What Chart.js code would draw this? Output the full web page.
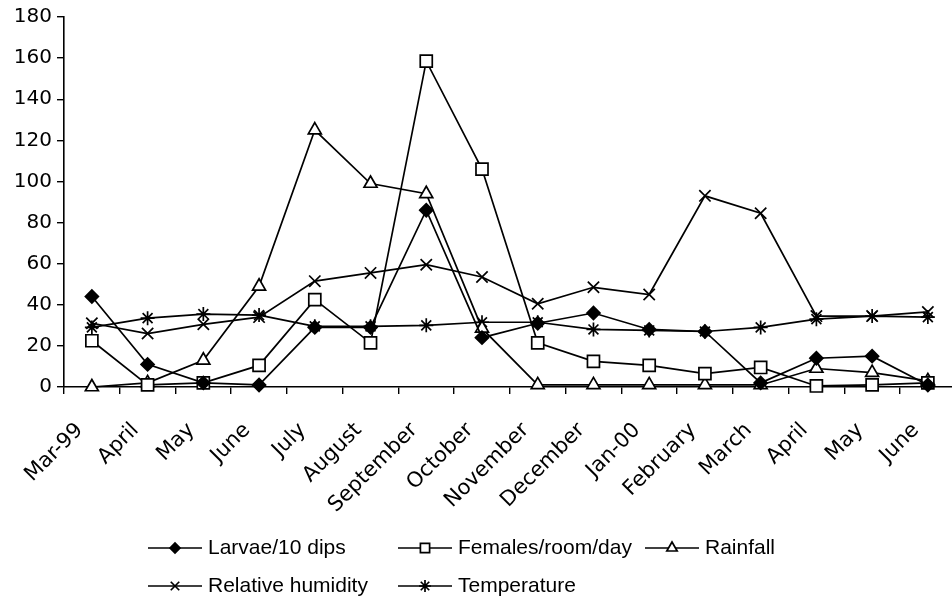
<!DOCTYPE html>
<html><head><meta charset="utf-8">
<script src="https://cdn.jsdelivr.net/npm/chart.js@4.4.0/dist/chart.umd.min.js"></script>
<style>html,body{margin:0;padding:0;background:#fff;overflow:hidden;}#wrap{width:952px;height:598px;position:relative;overflow:hidden;}canvas{display:block;}</style>
</head><body><div id="wrap"><canvas id="c" width="970" height="598"></canvas></div>
<script>
const months = ['Mar-99','April','May','June','July','August','September','October','November','December','Jan-00','February','March','April','May','June'];
const larvae = [44, 11, 2, 1, 29, 29, 86, 24, 31, 36, 28, 27, 2, 14, 15, 1];
const females = [22.5, 1, 2, 10.5, 42.5, 21.5, 158.5, 106, 21.5, 12.5, 10.5, 6.5, 9.5, 0.5, 1, 2];
const rainfall = [0, 2, 13, 49, 125, 99, 94, 28.5, 1, 1, 1, 1, 1, 9, 7, 3];
const humidity = [31, 26, 30.5, 34, 51.5, 55.5, 59.5, 53.5, 40.5, 48.5, 45, 93, 84.5, 34.5, 34.5, 36.5];
const temperature = [29, 33.5, 35.5, 35, 29.5, 29.5, 30, 31.5, 31.5, 28, 27.5, 27, 29, 33, 34.5, 34];
const seriesNames = ['Larvae/10 dips','Females/room/day','Rainfall','Relative humidity','Temperature'];
const yMin = 0, yMax = 180, yStep = 20;

const styles = [
  {pointStyle:'rectRot', radius:6.5, fill:'#000', lr:5},
  {pointStyle:'rect', radius:8.5, fill:'#fff', lr:6.5},
  {pointStyle:'triangle', radius:7.5, fill:'#fff', lr:6},
  {pointStyle:'crossRot', radius:8, fill:'#000', lr:6},
  {pointStyle:'star', radius:7, fill:'#000', lr:6}
];
const values = [larvae, females, rainfall, humidity, temperature];

const legendPlugin = {
  id: 'customLegend',
  afterDraw(chart) {
    const ctx = chart.ctx;
    const pos = [[148,548],[398,548],[645,548],[148,586],[398,586]];
    ctx.save();
    pos.forEach((p, i) => {
      const [x, y] = p;
      const st = styles[i];
      ctx.strokeStyle = '#000';
      ctx.lineWidth = 1.7;
      ctx.beginPath();
      ctx.moveTo(x, y); ctx.lineTo(x + 54, y);
      ctx.stroke();
      ctx.fillStyle = st.fill;
      ctx.strokeStyle = '#000';
      ctx.lineWidth = 1.7;
      Chart.helpers.drawPoint(ctx, {pointStyle: st.pointStyle, radius: st.lr, rotation: 0, borderWidth: 1.7}, x + 27, y);
      ctx.fillStyle = '#000';
      ctx.font = '21px "Liberation Sans", Arial, sans-serif';
      ctx.textAlign = 'left';
      ctx.textBaseline = 'middle';
      ctx.fillText(seriesNames[i], x + 60, y);
    });
    ctx.restore();
  }
};

const datasets = values.map((v, i) => ({
  label: seriesNames[i],
  data: v,
  borderColor: '#000',
  borderWidth: 1.7,
  pointStyle: styles[i].pointStyle,
  pointRadius: styles[i].radius,
  pointBackgroundColor: styles[i].fill,
  pointBorderColor: '#000',
  pointBorderWidth: 1.7,
  tension: 0,
  fill: false,
  clip: false
}));

new Chart(document.getElementById('c'), {
  type: 'line',
  data: { labels: months, datasets },
  options: {
    responsive: false,
    animation: false,
    devicePixelRatio: 1,
    layout: { padding: { top: 17, left: 0, right: 0, bottom: 61 } },
    plugins: { legend: { display: false }, tooltip: { enabled: false } },
    scales: {
      x: {
        type: 'category',
        offset: true,
        grid: { offset: true, drawOnChartArea: false, drawTicks: true, tickLength: 7, color: '#000', lineWidth: 1.4 },
        border: { display: true, color: '#000', width: 1.6 },
        ticks: { color: '#000', font: { family: '"DejaVu Sans", sans-serif', size: 21 }, maxRotation: 45, minRotation: 45, autoSkip: false, padding: 24, labelOffset: -12 },
        afterFit(s) { s.height = 150; }
      },
      y: {
        min: yMin, max: yMax,
        grid: { drawOnChartArea: false, drawTicks: true, tickLength: 7, color: '#000', lineWidth: 1.4 },
        border: { display: true, color: '#000', width: 1.6 },
        ticks: { stepSize: yStep, color: '#000', font: { family: '"DejaVu Sans", sans-serif', size: 20 }, padding: 5 },
        afterFit(s) { s.width = 64; }
      }
    }
  },
  plugins: [legendPlugin]
});
</script></body></html>
